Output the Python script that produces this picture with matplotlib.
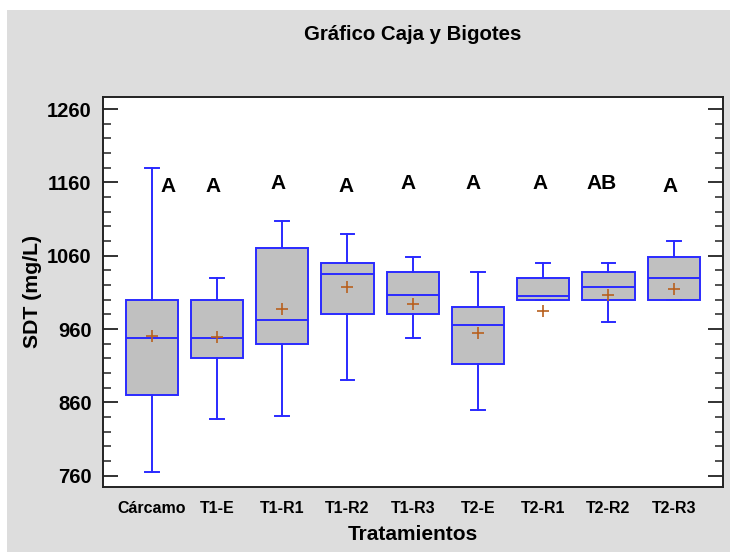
import matplotlib
matplotlib.use("Agg")
import matplotlib.pyplot as plt
from matplotlib.patches import Rectangle
from matplotlib.ticker import MultipleLocator

plt.rcParams['font.family'] = ['Liberation Sans', 'DejaVu Sans']

# ---- data ----
categories = ["Cárcamo", "T1-E", "T1-R1", "T1-R2", "T1-R3", "T2-E", "T2-R1", "T2-R2", "T2-R3"]
whis_lo = [765, 838, 841, 890, 948, 850, 1000, 970, 1000]
q1      = [870, 920, 940, 980, 980, 912, 1000, 1000, 1000]
median  = [948, 948, 973, 1035, 1007, 965, 1005, 1018, 1030]
mean    = [951, 949, 987, 1017, 994, 955, 985, 1007, 1014]
q3      = [1000, 1000, 1070, 1050, 1038, 990, 1030, 1038, 1058]
whis_hi = [1180, 1030, 1108, 1090, 1058, 1038, 1050, 1050, 1080]
groups  = ["A", "A", "A", "A", "A", "A", "A", "AB", "A"]
y_ticks = [760, 860, 960, 1060, 1160, 1260]

# label placement (offsets from category position, data y)
group_dx = [0.245, -0.055, -0.058, -0.025, -0.064, -0.068, -0.055, -0.113, -0.05]
group_y  = [1154.6, 1155, 1158.2, 1154.6, 1158.2, 1157.8, 1157.8, 1158.9, 1154.2]

W, H = 733, 552
fig = plt.figure(figsize=(W / 100, H / 100), dpi=100)
fig.patch.set_facecolor("white")
fig.patches.append(Rectangle((7 / W, 0), (730 - 7) / W, (552 - 10) / H,
                             transform=fig.transFigure, facecolor="#DDDDDD",
                             edgecolor="none", zorder=-10))

ax = fig.add_axes([102.7 / W, (H - 486.7) / H, (722.7 - 102.7) / W, (486.7 - 97.3) / H])
ax.set_facecolor("white")

blue = "#2A2AFF"
stats = []
for i, c in enumerate(categories):
    stats.append(dict(label=c, whislo=whis_lo[i], q1=q1[i], med=median[i],
                      q3=q3[i], whishi=whis_hi[i], mean=mean[i], fliers=[]))

positions = list(range(1, len(categories) + 1))
ax.bxp(stats, positions=positions, widths=0.8, capwidths=0.21,
       patch_artist=True, showmeans=True, showfliers=False,
       boxprops=dict(facecolor="#C0C0C0", edgecolor=blue, linewidth=1.4),
       medianprops=dict(color=blue, linewidth=1.4),
       whiskerprops=dict(color=blue, linewidth=1.4),
       capprops=dict(color=blue, linewidth=1.4),
       meanprops=dict(marker="+", markeredgecolor="#B8601E", markersize=8,
                      markeredgewidth=1.2, linestyle="none"))

for i, g in enumerate(groups):
    ax.text(positions[i] + group_dx[i], group_y[i], g, ha="center", va="center",
            fontsize=15, fontweight="bold", color="black")

ax.set_xlim(0.25, 9.75)
ax.set_ylim(745, 1276)
ax.set_yticks(y_ticks)
ax.yaxis.set_minor_locator(MultipleLocator(20))
ax.set_xticks(positions)
ax.set_xticklabels(categories, fontsize=11.5, fontweight="bold")
ax.tick_params(axis="x", length=0, pad=10)
ax.tick_params(axis="y", which="major", direction="in", length=11, width=1.3,
               left=True, right=True, labelsize=14.5, pad=8, color="#222222")
ax.tick_params(axis="y", which="minor", direction="in", length=6, width=1.1,
               left=True, right=True, color="#222222")
for lab in ax.get_yticklabels():
    lab.set_fontweight("bold")

for s in ax.spines.values():
    s.set_color("#222222")
    s.set_linewidth(1.4)

fig.text(413 / W, 1 - 35 / H, "Gráfico Caja y Bigotes", ha="center", va="center",
         fontsize=14.7, fontweight="bold")
fig.text(413 / W, 1 - 534 / H, "Tratamientos", ha="center", va="center",
         fontsize=15, fontweight="bold")
fig.text(33 / W, 1 - 292 / H, "SDT (mg/L)", ha="center", va="center",
         rotation=90, fontsize=15.3, fontweight="bold")

fig.savefig("out.png", dpi=100, facecolor=fig.get_facecolor())
